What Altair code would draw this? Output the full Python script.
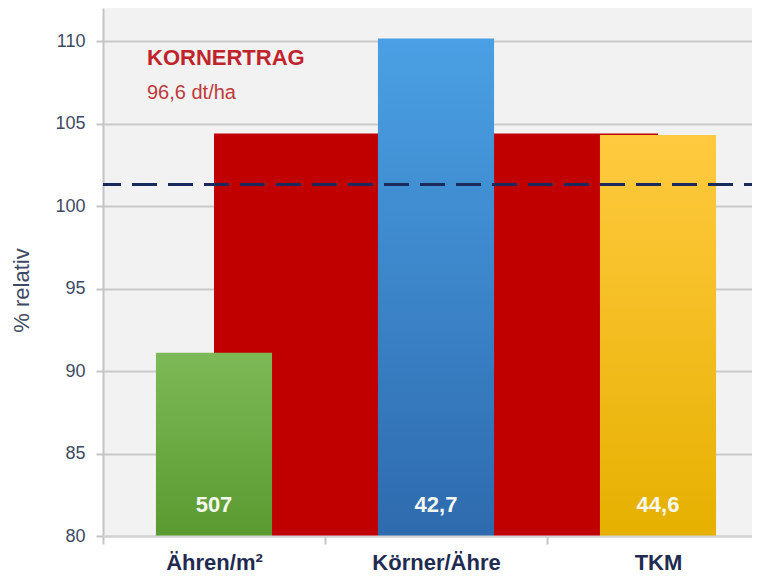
import altair as alt
import pandas as pd

# ---- data ----
categories = ["Ähren/m²", "Körner/Ähre", "TKM"]
values = [91.1, 110.15, 104.3]
value_labels = ["507", "42,7", "44,6"]
top_colors = ["#7dba57", "#4aa0e4", "#ffca3f"]
bottom_colors = ["#5a9a30", "#2e6aae", "#e6b000"]

kornertrag_span = ["Ähren/m²", "TKM"]
kornertrag_value = [104.4]
reference_line = [101.3]
y_ticks = [80, 85, 90, 95, 100, 105, 110]
annotation_title = ["KORNERTRAG"]
annotation_sub = ["96,6 dt/ha"]

FONT = "Liberation Sans"

df = pd.DataFrame({"cat": categories, "val": values, "label": value_labels})
red_df = pd.DataFrame({"start": [kornertrag_span[0]], "end": [kornertrag_span[1]],
                       "val": kornertrag_value})
rule_df = pd.DataFrame({"y": reference_line})

xscale = alt.Scale(domain=categories, paddingInner=0, paddingOuter=0)
yscale = alt.Scale(domain=[80, 112], nice=False, zero=False)

xaxis = alt.Axis(title=None, labelFontSize=22, labelFontWeight="bold", labelColor="#1f2b50",
                 labelFont=FONT, labelAngle=0, labelBaseline="middle", labelPadding=18,
                 tickBand="extent", tickSize=8, tickColor="#c4c4c4", tickWidth=2,
                 domainColor="#d2d2d2", domainWidth=2, grid=False)
yaxis = alt.Axis(title="% relativ", values=y_ticks, labelFontSize=18, labelColor="#3d4a63",
                 labelFont=FONT, labelPadding=11, tickSize=7, tickColor="#c4c4c4", tickWidth=2,
                 domainColor="#c4c4c4", domainWidth=2, grid=True, gridColor="#c9c9c9",
                 gridWidth=2, titleFont=FONT, titleFontSize=22, titleFontWeight="normal",
                 titleColor="#3d4a63", titleX=-82, titleY=282, titleAngle=270,
                 titleBaseline="middle")

red = alt.Chart(red_df).mark_rect(color="#c00000").encode(
    x=alt.X("start:N", scale=xscale, axis=xaxis, bandPosition=0.5),
    x2=alt.X2("end", bandPosition=0.5),
    y=alt.Y("val:Q", scale=yscale, axis=yaxis),
    y2=alt.datum(80),
)

bars = []
for c, tc, bc in zip(categories, top_colors, bottom_colors):
    bars.append(
        alt.Chart(df).transform_filter(alt.datum.cat == c).mark_bar(
            width=alt.RelativeBandSize(0.523),
            color=alt.Gradient(gradient="linear", x1=0, x2=0, y1=0, y2=1,
                               stops=[alt.GradientStop(color=tc, offset=0),
                                      alt.GradientStop(color=bc, offset=1)]),
        ).encode(
            x=alt.X("cat:N", scale=xscale, axis=xaxis),
            y=alt.Y("val:Q", scale=yscale, axis=yaxis),
            y2=alt.datum(80),
        )
    )

vlabels = alt.Chart(df).mark_text(font=FONT, fontSize=22, fontWeight="bold",
                                  color="#f6f9ef", baseline="middle").encode(
    x=alt.X("cat:N", scale=xscale, axis=xaxis),
    y=alt.datum(81.9),
    text="label:N",
)

rule = alt.Chart(rule_df).mark_rule(color="#1b2a5c", strokeWidth=3,
                                    strokeDash=[25, 11]).encode(
    y=alt.Y("y:Q", scale=yscale, axis=yaxis)
)

t1 = alt.Chart(pd.DataFrame({"t": annotation_title})).mark_text(
    font=FONT, fontSize=22, fontWeight="bold", color="#c1232b", align="left",
    baseline="middle").encode(x=alt.value(44), y=alt.datum(109.0), text="t:N")
t2 = alt.Chart(pd.DataFrame({"t": annotation_sub})).mark_text(
    font=FONT, fontSize=20, color="#c0393b", align="left",
    baseline="middle").encode(x=alt.value(44), y=alt.datum(106.85), text="t:N")

chart = alt.layer(red, *bars, vlabels, rule, t1, t2).properties(
    width=666, height=528, autosize="none",
    padding={"left": 95, "top": 0, "right": -17, "bottom": 42},
).configure_view(fill="#f2f2f2", stroke=None)

chart.save("out.html", embed_options={"renderer": "svg", "actions": False})
